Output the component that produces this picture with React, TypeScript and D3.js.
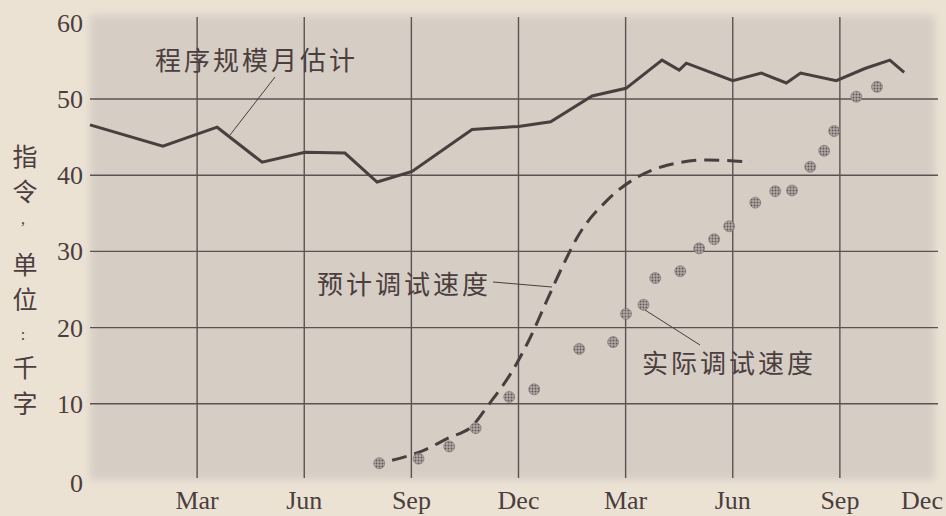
import React from "react";
import * as d3 from "d3";

const xTickMonths = [3, 6, 9, 12, 15, 18, 21];
const xTickLabels = ["Mar", "Jun", "Sep", "Dec", "Mar", "Jun", "Sep"];
const lastTickLabel = "Dec";
const yTicks = [0, 10, 20, 30, 40, 50, 60];
const yTitleChars = ["指", "令", ",", "单", "位", ":", "千", "字"];

const sizeMonths = [0, 2.04, 3.56, 4.82, 6.02, 7.14, 8.04, 9.02, 10.7, 12, 12.9, 14.06, 15.01, 16.02, 16.5, 16.7, 18, 18.8, 19.5, 19.9, 20.9, 21.7, 22.4, 22.8];
const sizeValues = [46.6, 43.8, 46.3, 41.7, 43, 42.9, 39.1, 40.5, 46, 46.4, 47, 50.4, 51.4, 55.1, 53.8, 54.7, 52.4, 53.4, 52.1, 53.4, 52.4, 54, 55.1, 53.5];

const planMonths = [8.46, 9.24, 10.03, 10.73, 11.15, 11.76, 12.32, 12.8, 13.25, 13.64, 14.48, 15.35, 16.16, 17.28, 18.49];
const planValues = [2.6, 3.7, 5.5, 7.2, 9.8, 13.8, 18.6, 23.6, 28.2, 31.8, 36.7, 39.8, 41.3, 42, 41.7];

const actualMonths = [8.1, 9.2, 10.06, 10.8, 11.74, 12.44, 13.7, 14.65, 15.01, 15.5, 15.83, 16.53, 17.06, 17.48, 17.9, 18.63, 19.19, 19.66, 20.17, 20.56, 20.84, 21.46, 22.04];
const actualValues = [2.2, 2.8, 4.4, 6.8, 10.9, 11.9, 17.2, 18.1, 21.8, 23, 26.5, 27.4, 30.4, 31.6, 33.3, 36.4, 37.9, 38, 41.1, 43.2, 45.8, 50.3, 51.6];

const sizeLabel = "程序规模月估计";
const planLabel = "预计调试速度";
const actualLabel = "实际调试速度";

const W = 946;
const H = 516;

export default function App() {
  const x = d3.scaleLinear().domain([0, 24]).range([90, 947]);
  const y = d3.scaleLinear().domain([0, 60]).range([480, 22.8]);

  const sizeLine = d3
    .line<number>()
    .x((_, i) => x(sizeMonths[i]))
    .y((d) => y(d));
  const planLine = d3
    .line<number>()
    .x((_, i) => x(planMonths[i]))
    .y((d) => y(d))
    .curve(d3.curveMonotoneX);

  const ink = "#4a3e3e";
  const gridC = "#5e5151";
  const serif = "'Liberation Serif', 'DejaVu Serif', serif";
  const cjk = "'Noto Sans CJK SC', sans-serif";

  const titleY = [157, 192, 218, 265, 300, 334, 368, 404];

  return (
    <svg
      width={W}
      height={H}
      style={{ position: "absolute", left: 0, top: 0, display: "block" }}
    >
      <defs>
        <filter id="soft" x="-5%" y="-5%" width="110%" height="110%">
          <feGaussianBlur stdDeviation="4" />
        </filter>
        <pattern id="stipple" width="3" height="3" patternUnits="userSpaceOnUse">
          <rect width="3" height="3" fill="#b3aaa6" />
          <circle cx="1.5" cy="1.5" r="1" fill="#625857" />
        </pattern>
      </defs>
      <rect x={0} y={0} width={W} height={H} fill="#ece2d4" />
      <rect x={90} y={15} width={845} height={465} fill="#d6cdc5" filter="url(#soft)" />

      {/* horizontal grid */}
      {yTicks
        .filter((t) => t > 0 && t < 60)
        .map((t) => (
          <line key={"h" + t} x1={90} x2={938} y1={y(t)} y2={y(t)} stroke={gridC} strokeWidth={1.4} />
        ))}
      {/* vertical grid */}
      {xTickMonths.map((m, i) => (
        <line key={"v" + i} x1={x(m)} x2={x(m)} y1={17} y2={478} stroke={gridC} strokeWidth={1.4} />
      ))}

      {/* y tick labels */}
      {yTicks.map((t) => (
        <text
          key={"yl" + t}
          x={83}
          y={y(t) + (t === 0 ? 12 : 9)}
          textAnchor="end"
          fontFamily={serif}
          fontSize={26}
          fill={ink}
        >
          {t}
        </text>
      ))}

      {/* x tick labels */}
      {xTickMonths.map((m, i) => (
        <text
          key={"xl" + i}
          x={x(m)}
          y={509}
          textAnchor="middle"
          fontFamily={serif}
          fontSize={26}
          fill={ink}
        >
          {xTickLabels[i]}
        </text>
      ))}
      <text x={922} y={509} textAnchor="middle" fontFamily={serif} fontSize={26} fill={ink}>
        {lastTickLabel}
      </text>

      {/* y title (vertical) */}
      {yTitleChars.map((c, i) => {
        const punct = c === "," || c === ":";
        return (
          <text
            key={"yt" + i}
            x={punct ? 23 : 25}
            y={titleY[i] + (punct ? 6 : 9)}
            textAnchor="middle"
            fontFamily={punct ? serif : cjk}
            fontSize={punct ? 16 : 25}
            fill={ink}
          >
            {c}
          </text>
        );
      })}

      {/* size estimate line */}
      <path d={sizeLine(sizeValues) || ""} fill="none" stroke={ink} strokeWidth={3} strokeLinejoin="miter" />

      {/* planned debug line */}
      <path
        d={planLine(planValues) || ""}
        fill="none"
        stroke={ink}
        strokeWidth={3}
        strokeDasharray="15 8"
      />

      {/* actual debug dots */}
      {actualValues.map((v, i) => (
        <circle
          key={"d" + i}
          cx={x(actualMonths[i])}
          cy={y(v)}
          r={5.5}
          fill="url(#stipple)"
          stroke="#7b7170"
          strokeWidth={0.6}
        />
      ))}

      {/* annotations */}
      <text x={155} y={70} fontFamily={cjk} fontSize={26} letterSpacing={3} fill={ink}>
        {sizeLabel}
      </text>
      <line x1={275} y1={77} x2={230} y2={135} stroke={ink} strokeWidth={1} />

      <text x={317} y={294} fontFamily={cjk} fontSize={26} letterSpacing={3} fill={ink}>
        {planLabel}
      </text>
      <line x1={493} y1={282} x2={552} y2={287} stroke={ink} strokeWidth={1} />

      <text x={642} y={373} fontFamily={cjk} fontSize={26} letterSpacing={3} fill={ink}>
        {actualLabel}
      </text>
      <line x1={645} y1={310} x2={700} y2={345} stroke={ink} strokeWidth={1} />
    </svg>
  );
}
